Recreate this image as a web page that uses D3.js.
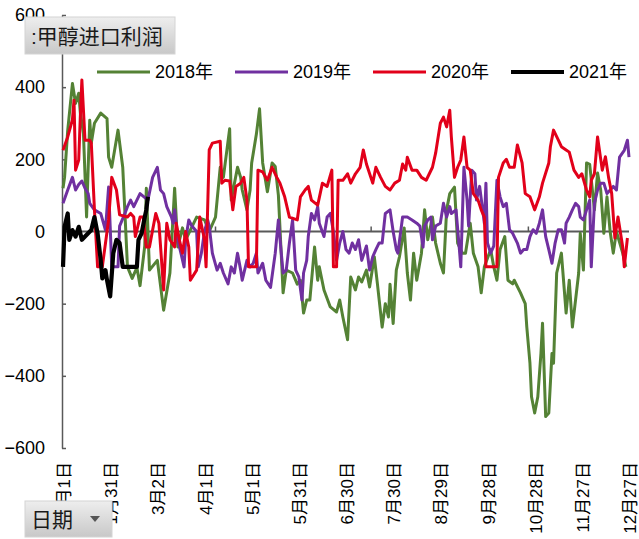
<!DOCTYPE html>
<html>
<head>
<meta charset="utf-8">
<script src="https://cdn.jsdelivr.net/npm/d3@7"></script>
<style>
  body { margin: 0; background: #fff; }
  svg { display: block; font-family: "Liberation Sans", Arial, "Noto Sans CJK SC", sans-serif; }
</style>
</head>
<body>
<svg id="chart" width="639" height="539"></svg>
<script>
// 甲醇进口利润 seasonal chart (day-of-year, value)

const years = ["2018年", "2019年", "2020年", "2021年"];
const colors = ["#548235", "#7030a0", "#e2001a", "#000000"];

const tickDays = [0, 30, 60, 90, 120, 150, 180, 210, 240, 270, 300, 330, 360];
const tickLabels = ["1月1日", "1月31日", "3月2日", "4月1日", "5月1日", "5月31日", "6月30日",
  "7月30日", "8月29日", "9月28日", "10月28日", "11月27日", "12月27日"];
const yTicks = [-600, -400, -200, 0, 200, 400, 600];
const zeroTicks = [97, 196, 296];

const s2018 = [[0,120],[1,150],[3,280],[6,410],[8,355],[10,383],[11,330],[13,272],[15,40],[17,308],[18,245],
  [20,300],[24,328],[28,313],[29,206],[31,178],[35,281],[38,178],[39,87],[41,-98],[44,-130],[47,-100],[49,-150],
  [52,-40],[53,120],[55,-107],[60,-80],[64,-218],[68,-115],[71,120],[73,-43],[76,10],[78,-23],[81,4],[85,40],
  [90,32],[93,0],[97,40],[100,178],[102,150],[106,285],[107,87],[111,178],[113,150],[114,115],[117,60],[119,115],
  [120,190],[123,270],[125,340],[127,190],[130,110],[133,190],[135,180],[137,100],[140,-170],[142,-107],[146,-115],
  [149,-146],[151,-135],[153,-226],[155,-190],[157,-190],[160,-43],[162,-135],[163,-98],[166,-162],[170,-209],
  [174,-223],[176,-190],[178,-237],[181,-300],[183,-126],[186,-162],[188,-126],[190,-140],[193,-107],[195,-154],
  [198,-70],[200,-146],[203,-265],[205,-200],[207,-237],[208,-146],[210,-255],[212,-107],[214,-70],[217,10],
  [219,-115],[221,-190],[223,-60],[225,-135],[228,-60],[230,60],[232,-23],[235,40],[237,-32],[240,-88],[242,-115],
  [244,60],[246,105],[249,123],[251,-32],[254,-60],[256,-60],[259,23],[261,-60],[264,-98],[266,-170],[268,-98],
  [272,-50],[274,-98],[276,-135],[278,-50],[281,-14],[283,-135],[286,-145],[287,-135],[291,-170],[293,-190],
  [294,-200],[295,-265],[297,-365],[298,-458],[300,-503],[302,-458],[304,-338],[305,-254],[307,-513],[309,-503],
  [311,-338],[312,-365],[314,-115],[317,-60],[320,-226],[322,-135],[324,-265],[328,-115],[329,-5],[331,-107],
  [333,190],[335,186],[338,60],[340,162],[342,115],[344,-5],[346,96],[348,0],[350,-60],[352,0],[356,-60],[358,-98]];

const s2019 = [[0,78],[3,115],[6,150],[8,115],[10,130],[12,140],[14,120],[16,105],[17,78],[20,60],[24,50],[27,4],
  [29,123],[30,15],[31,-98],[35,-98],[36,15],[39,46],[41,69],[43,87],[45,69],[49,105],[54,87],[57,150],[60,178],
  [62,115],[64,105],[66,69],[69,40],[70,23],[71,60],[73,-23],[75,-60],[77,-98],[78,-23],[80,32],[82,15],[85,0],
  [86,-98],[88,-60],[90,0],[92,32],[93,15],[95,-60],[98,-107],[100,-88],[102,-115],[105,-145],[107,-98],[109,-115],
  [111,-60],[113,-107],[114,-135],[117,-80],[119,-98],[121,-88],[123,-60],[124,-115],[127,-88],[129,-135],
  [132,-155],[135,-60],[137,32],[138,-20],[140,-115],[142,-107],[144,-32],[146,32],[148,-107],[150,-126],
  [152,-190],[153,-115],[155,-80],[156,-14],[158,50],[160,32],[162,69],[163,23],[166,-14],[168,40],[170,50],
  [172,0],[174,-80],[176,-32],[178,0],[180,-50],[182,-60],[184,-32],[186,-50],[188,-23],[190,-80],[193,-40],
  [195,-107],[197,-70],[199,-50],[201,-32],[203,-32],[205,50],[208,60],[210,0],[212,-50],[213,-60],[216,40],
  [219,40],[222,32],[225,23],[227,15],[229,-43],[230,15],[232,32],[234,40],[235,-23],[237,15],[240,23],[242,78],
  [244,40],[246,69],[247,50],[250,60],[252,-43],[253,-98],[255,178],[257,87],[258,15],[260,170],[262,160],[263,87],
  [265,125],[268,23],[269,134],[270,-32],[272,-60],[274,-40],[276,142],[278,96],[280,69],[282,78],[284,5],[286,-5],
  [289,-32],[291,-60],[293,-50],[295,-50],[297,-14],[299,5],[301,-5],[303,23],[305,60],[307,-14],[309,-50],[311,-88],
  [313,-32],[315,5],[317,5],[319,-32],[320,23],[322,40],[324,60],[326,78],[328,69],[329,40],[331,32],[333,60],
  [335,87],[336,-98],[338,78],[340,115],[342,134],[344,134],[346,105],[348,115],[350,125],[352,115],[354,206],
  [357,225],[359,253],[360,206]];

const s2020 = [[0,225],[3,262],[6,310],[7,364],[8,170],[10,198],[11,317],[12,420],[14,253],[17,253],[18,245],
  [20,60],[22,-98],[25,-98],[29,32],[31,150],[34,115],[36,46],[41,40],[43,50],[45,40],[46,-14],[49,40],[51,40],
  [53,-43],[55,-43],[57,4],[59,50],[61,23],[64,-162],[66,23],[68,-23],[71,-43],[72,23],[74,-23],[76,-60],[78,0],
  [80,-43],[81,-135],[85,-107],[87,40],[90,-23],[91,-98],[93,226],[95,245],[100,250],[101,134],[103,142],[106,140],
  [108,60],[110,125],[113,134],[115,150],[117,87],[118,-98],[123,-98],[124,170],[127,165],[130,142],[133,178],
  [136,150],[138,134],[141,96],[144,40],[149,32],[151,96],[154,115],[156,125],[158,87],[162,73],[165,134],[168,125],
  [171,170],[172,-98],[174,-98],[175,142],[178,142],[181,160],[183,134],[186,160],[189,178],[191,226],[193,187],
  [197,134],[199,178],[202,150],[205,125],[208,115],[211,134],[214,142],[216,187],[218,170],[219,206],[222,170],
  [225,170],[228,150],[231,142],[235,178],[237,217],[240,300],[242,317],[244,290],[246,336],[247,262],[249,150],
  [251,178],[253,198],[255,262],[257,178],[259,170],[261,105],[264,87],[266,60],[268,40],[269,-98],[276,-98],
  [277,150],[280,190],[282,200],[284,178],[287,178],[289,240],[292,190],[294,105],[297,96],[300,60],[303,96],
  [305,134],[309,190],[310,235],[312,281],[315,254],[317,235],[320,226],[322,220],[325,170],[328,150],[330,160],
  [333,115],[335,96],[336,142],[338,160],[340,262],[343,170],[345,207],[347,150],[349,105],[351,-18],[353,40],
  [356,-43],[357,-98],[359,-18]];

const s2021 = [[0,-98],[1,13],[3,50],[4,-23],[6,4],[8,-14],[10,13],[12,-23],[14,-14],[16,-5],[18,4],[20,40],
  [22,-5],[24,-80],[25,-130],[27,-107],[28,-135],[30,-180],[32,-60],[34,-23],[36,-32],[38,-98],[40,-98],[44,-98],
  [47,-98],[48,-23],[50,-5],[52,40],[53,60],[54,96]];

const series = [s2018, s2019, s2020, s2021];

const svg = d3.select("#chart");

const x = d3.scaleLinear().domain([0, 360]).range([63, 629]);
const y = d3.scaleLinear().domain([-600, 600]).range([448, 15]);

// y axis, ticks pointing inward
const yAxis = svg.append("g")
  .attr("transform", `translate(${x(0) - 1},0)`)
  .call(d3.axisLeft(y).tickValues(yTicks).tickSize(-4).tickPadding(17).tickSizeOuter(0));
yAxis.select(".domain").attr("stroke", "#595959").attr("stroke-width", 1.5);
yAxis.selectAll(".tick line").attr("stroke", "#595959").attr("stroke-width", 1.5);
yAxis.selectAll("text").attr("font-size", 18).attr("fill", "#000")
  .attr("font-family", "Liberation Sans, Arial, sans-serif");

// zero line
svg.append("line")
  .attr("x1", x(0)).attr("x2", x(360))
  .attr("y1", y(0)).attr("y2", y(0))
  .attr("stroke", "#595959").attr("stroke-width", 2);
svg.selectAll(".ztick").data(zeroTicks).enter().append("line")
  .attr("x1", d => x(d)).attr("x2", d => x(d))
  .attr("y1", y(0)).attr("y2", y(0) - 5)
  .attr("stroke", "#595959").attr("stroke-width", 1.5);

// x tick labels, rotated
svg.selectAll(".xlab").data(tickDays).enter().append("text")
  .attr("transform", d => `translate(${x(d) + 1},462) rotate(-90)`)
  .attr("text-anchor", "end")
  .attr("dy", "0.36em")
  .attr("font-size", 17)
  .text((d, i) => tickLabels[i]);

// lines
const line = d3.line().x(d => x(d[0])).y(d => y(d[1]));
svg.selectAll(".series").data(series).enter().append("path")
  .attr("d", line)
  .attr("fill", "none")
  .attr("stroke", (d, i) => colors[i])
  .attr("stroke-width", (d, i) => i === 3 ? 4.2 : 3)
  .attr("stroke-linejoin", "round");

// legend
const leg = svg.selectAll(".leg").data(years).enter().append("g")
  .attr("transform", (d, i) => `translate(${97 + i * 138},72)`);
leg.append("line").attr("x1", 0).attr("x2", 53)
  .attr("stroke", (d, i) => colors[i])
  .attr("stroke-width", (d, i) => i === 3 ? 4.2 : 3);
leg.append("text").attr("x", 58).attr("dy", "0.36em").attr("font-size", 18).text(d => d);

// title button and field button
const defs = svg.append("defs");
const grad = defs.append("linearGradient").attr("id", "btn").attr("x1", 0).attr("x2", 0).attr("y1", 0).attr("y2", 1);
grad.append("stop").attr("offset", 0).attr("stop-color", "#eeeeee");
grad.append("stop").attr("offset", 1).attr("stop-color", "#c8c8c8");

svg.append("rect").attr("x", 25).attr("y", 17).attr("width", 150).attr("height", 37)
  .attr("fill", "url(#btn)").attr("stroke", "#d4d4d4");
svg.append("text").attr("x", 31).attr("y", 36).attr("dy", "0.36em")
  .attr("font-size", 21).attr("fill", "#1a1a1a").text(":甲醇进口利润");

svg.append("rect").attr("x", 25).attr("y", 501).attr("width", 87).attr("height", 36)
  .attr("fill", "url(#btn)").attr("stroke", "#d4d4d4");
svg.append("text").attr("x", 31).attr("y", 519).attr("dy", "0.36em")
  .attr("font-size", 21).attr("fill", "#1a1a1a").text("日期");
svg.append("path").attr("d", "M90,516 L100,516 L95,522 Z").attr("fill", "#555");
</script>
</body>
</html>
